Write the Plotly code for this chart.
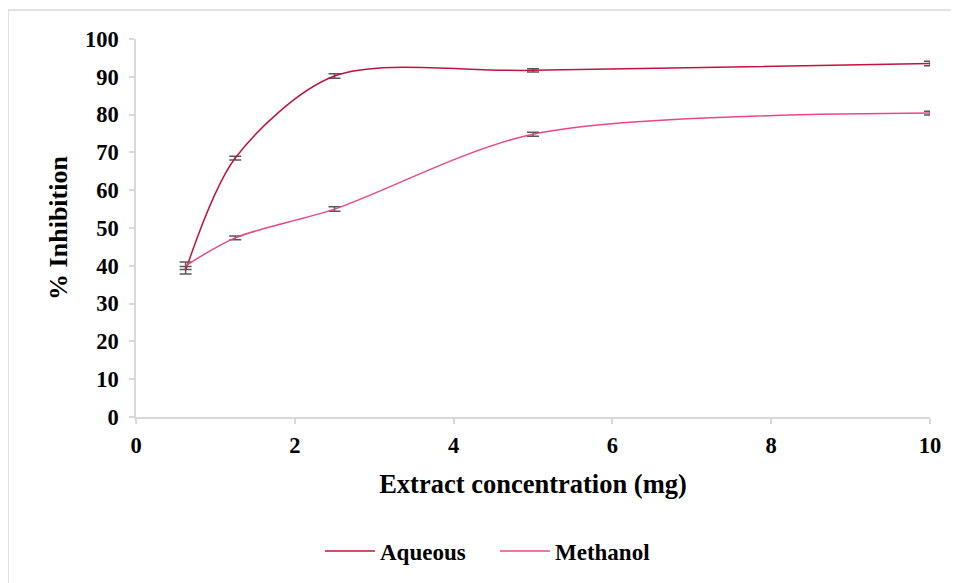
import plotly.graph_objects as go

concentration = [0.625, 1.25, 2.5, 5, 10]
aqueous = [38.8, 68.5, 90.2, 91.7, 93.5]
aqueous_err = [1.0, 0.5, 0.6, 0.4, 0.6]
methanol = [40.0, 47.4, 55.0, 74.8, 80.4]
methanol_err = [1.0, 0.5, 0.6, 0.5, 0.5]

FONT = "Liberation Serif"
AXIS_COLOR = "#d9d9d9"
ERR_COLOR = "#595959"

fig = go.Figure()
fig.add_trace(go.Scatter(
    x=concentration, y=aqueous, name="Aqueous", mode="lines",
    line=dict(color="#C0143C", width=1.5, shape="spline", smoothing=0.85),
    error_y=dict(type="data", array=aqueous_err, visible=True,
                 color=ERR_COLOR, thickness=1.5, width=6),
))
fig.add_trace(go.Scatter(
    x=concentration, y=methanol, name="Methanol", mode="lines",
    line=dict(color="#E8488A", width=1.5, shape="spline", smoothing=0.85),
    error_y=dict(type="data", array=methanol_err, visible=True,
                 color=ERR_COLOR, thickness=1.5, width=6),
))

# page has an 8px body margin; figure coordinates are page - 8
W, H = 951, 575
L, T = 128, 31
PR, PB = 922, 410
R, B = W - PR, H - PB
pw, ph = PR - L, PB - T

fig.update_layout(
    width=W, height=H,
    margin=dict(l=L, r=R, t=T, b=B, pad=0),
    paper_bgcolor="white", plot_bgcolor="white",
    font=dict(family=FONT, color="black", size=22),
    showlegend=True,
    legend=dict(orientation="h", x=(487 - L) / pw, y=(PB - 543) / ph,
                xanchor="center", yanchor="middle",
                itemwidth=50, entrywidth=110, entrywidthmode="pixels",
                font=dict(family=FONT, size=23, color="black", weight="bold"),
                bgcolor="rgba(0,0,0,0)"),
    xaxis=dict(range=[0, 10], tickvals=[0, 2, 4, 6, 8, 10],
               showgrid=False, zeroline=False,
               showline=True, linecolor=AXIS_COLOR, linewidth=1.5,
               ticks="outside", ticklen=5, tickcolor=AXIS_COLOR, tickwidth=1.5,
               ticklabelstandoff=2,
               tickfont=dict(family=FONT, size=22.5, weight="bold"),
               title=dict(text="Extract concentration (mg)", standoff=18,
                          font=dict(family=FONT, size=26.5, weight="bold"))),
    yaxis=dict(range=[0, 100], tickvals=list(range(0, 101, 10)),
               showgrid=False, zeroline=False,
               showline=True, linecolor=AXIS_COLOR, linewidth=1.5,
               ticks="outside", ticklen=5, tickcolor=AXIS_COLOR, tickwidth=1.5,
               ticklabelstandoff=6,
               tickfont=dict(family=FONT, size=22.5, weight="bold"),
               title=dict(text="% Inhibition", standoff=10,
                          font=dict(family=FONT, size=26, weight="bold"))),
    shapes=[dict(type="rect", xref="paper", yref="paper",
                 x0=(0 - L) / pw, x1=(970 - L) / pw,
                 y0=(PB - 600) / ph, y1=(PB - 2) / ph,
                 line=dict(color=AXIS_COLOR, width=1.5), fillcolor="rgba(0,0,0,0)",
                 layer="below")],
)

fig.write_html("out.html")
